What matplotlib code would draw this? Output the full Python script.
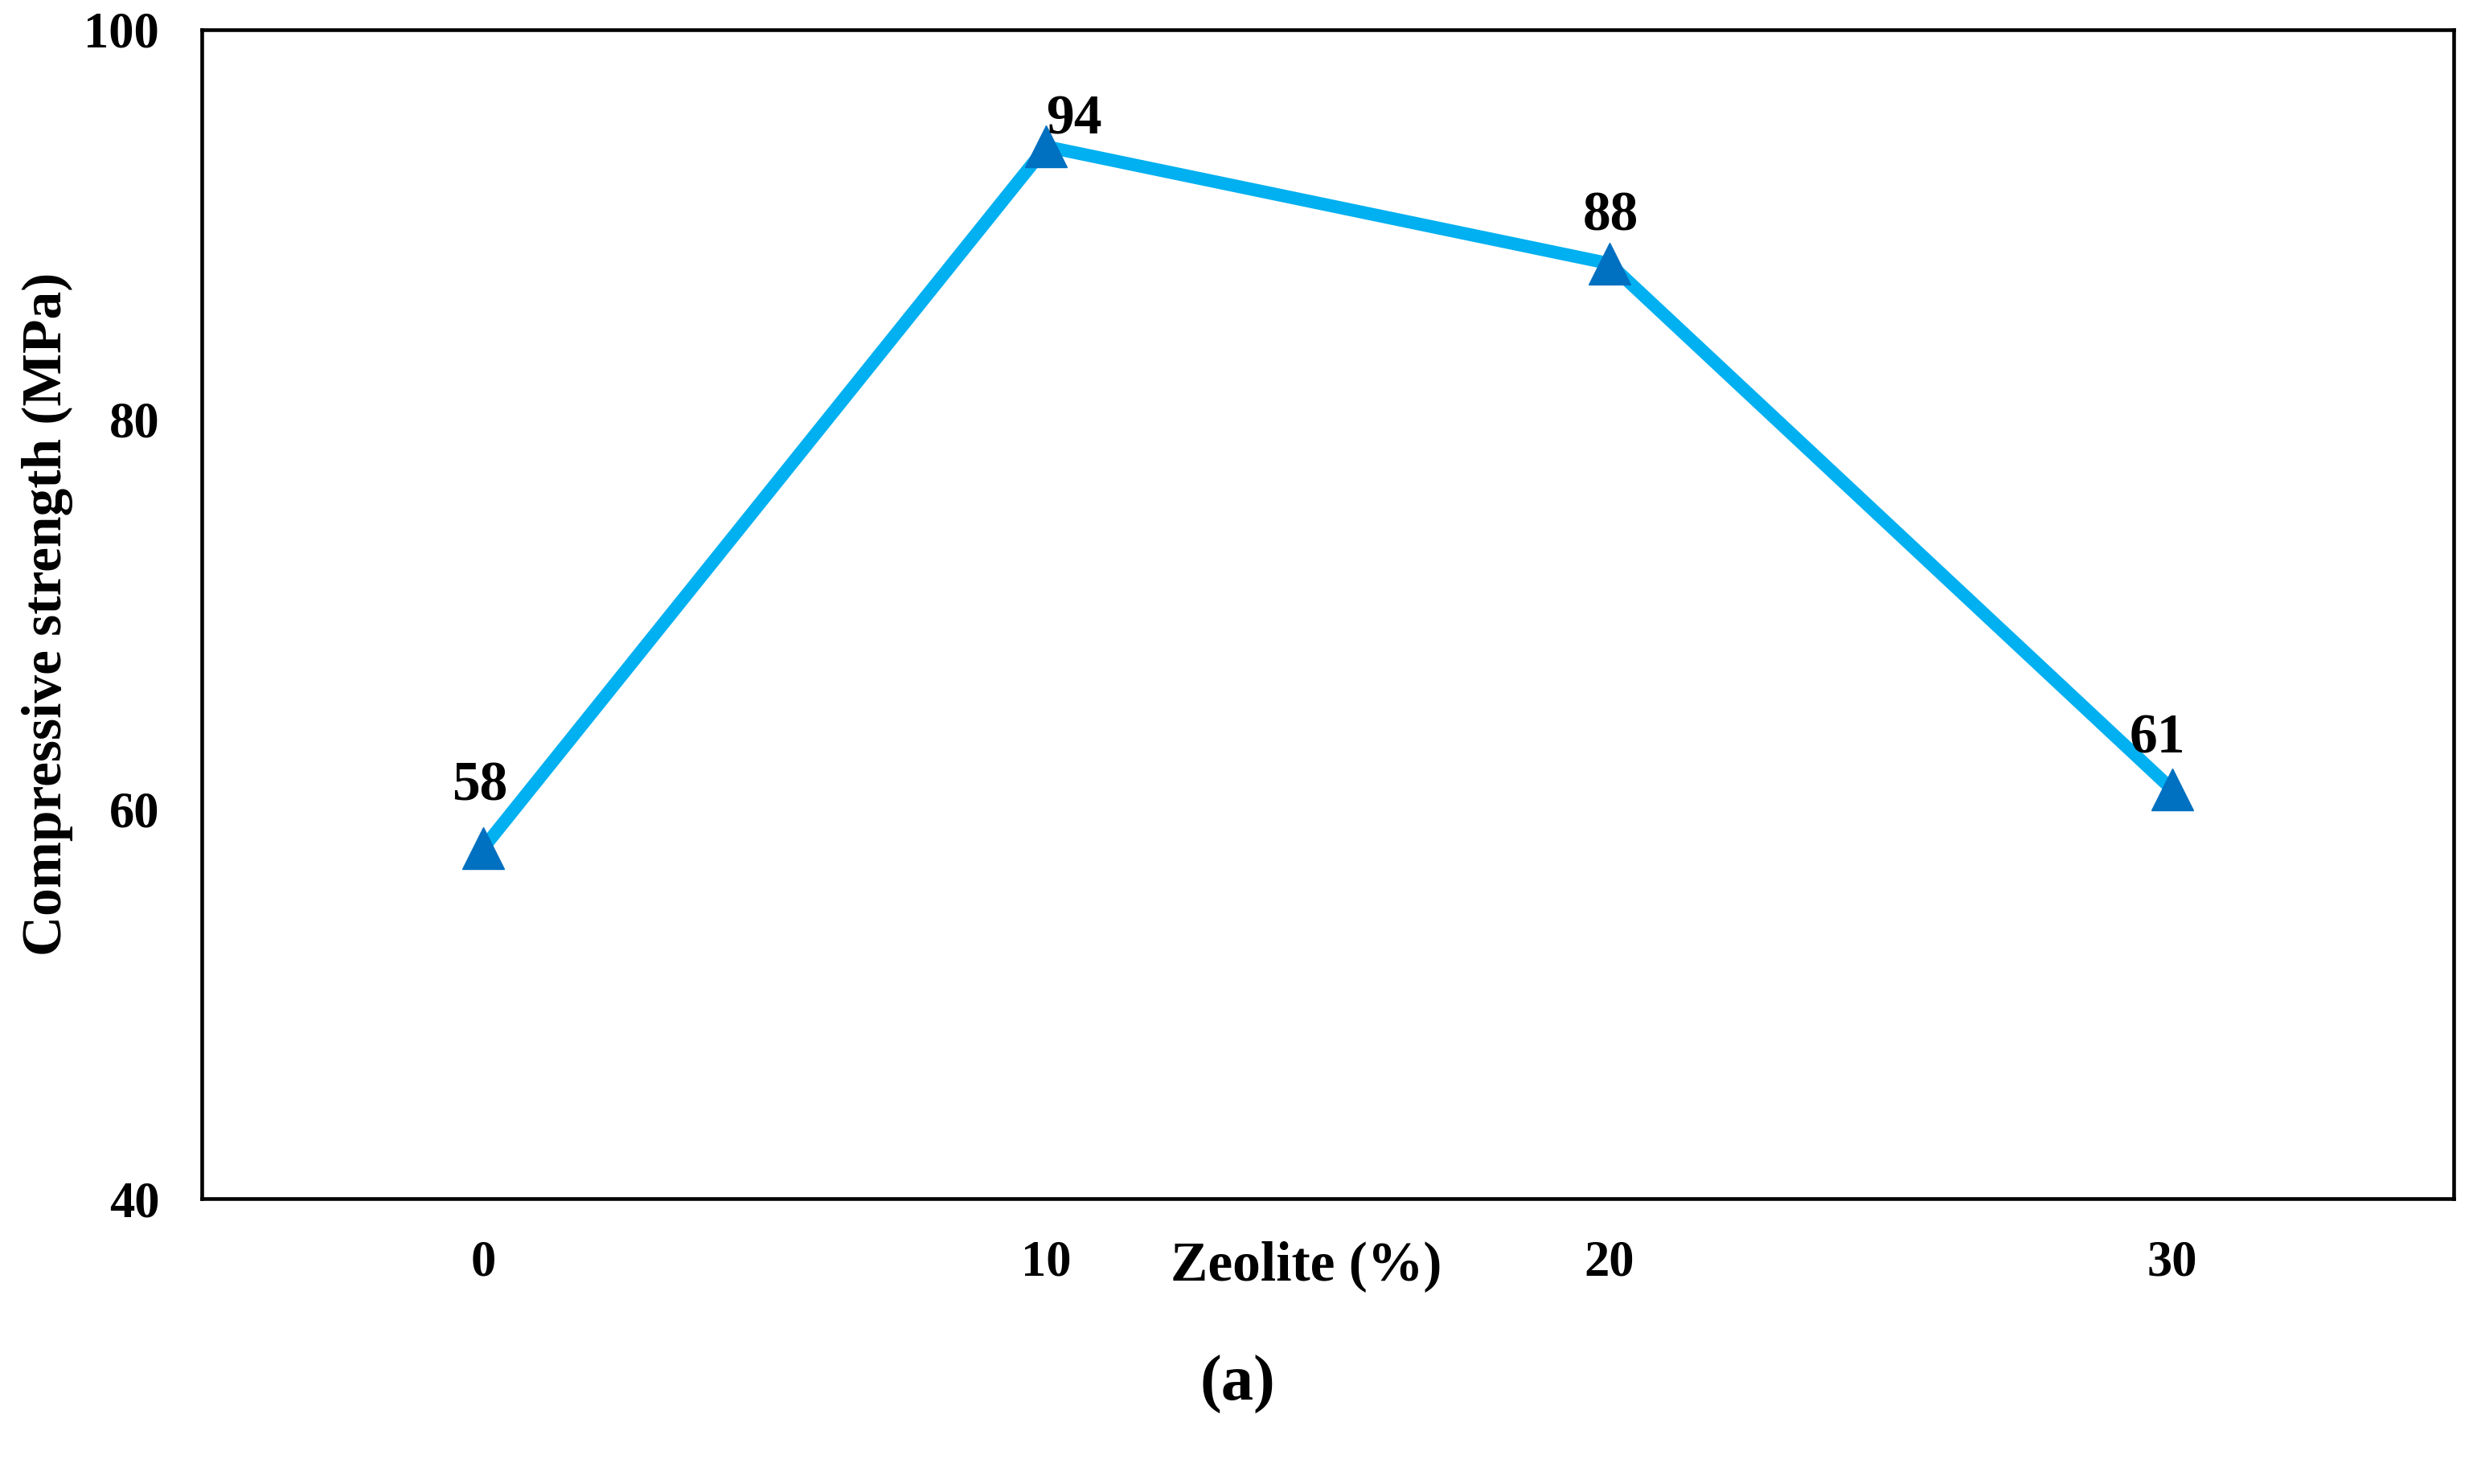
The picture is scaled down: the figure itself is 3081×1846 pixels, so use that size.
import matplotlib
matplotlib.use("Agg")
import matplotlib.pyplot as plt

categories = ["0", "10", "20", "30"]
strength = [58, 94, 88, 61]
yticks = [40, 60, 80, 100]
label_offsets = [(-3, 55), (25, 24), (1, 42), (-13, 45)]

plt.rcParams['font.family'] = ['Liberation Serif', 'DejaVu Serif']

fig = plt.figure(figsize=(30.81, 18.46), dpi=100)
ax = fig.add_axes([251/3081, 1 - 1491/1846, (3052-251)/3081, (1491-37)/1846])

x = list(range(len(categories)))
ax.plot(x, strength, color='#00B0F0', lw=11.5, marker='^', markersize=38,
        markerfacecolor='#0070C0', markeredgecolor='#0070C0', zorder=3)

for xi, v, off in zip(x, strength, label_offsets):
    ax.annotate(str(v), (xi, v), xytext=off, textcoords='offset points',
                ha='center', va='center', fontsize=50, fontweight='bold')

ax.set_xlim(-0.5, len(categories) - 0.5)
ax.set_ylim(40, 100)
ax.set_xticks(x)
ax.set_xticklabels(categories)
ax.set_yticks(yticks)
ax.tick_params(axis='both', length=0, labelsize=45)
ax.tick_params(axis='x', pad=37)
ax.tick_params(axis='y', pad=38)
for lab in ax.get_xticklabels() + ax.get_yticklabels():
    lab.set_fontweight('bold')
for sp in ax.spines.values():
    sp.set_linewidth(3.3)
    sp.set_color('black')

ax.set_xlabel('Zeolite (%)', fontsize=50, fontweight='bold')
ax.xaxis.set_label_coords(0.4905, -0.036)
ax.set_ylabel('Compressive strength (MPa)', fontsize=50, fontweight='bold')
ax.yaxis.set_label_coords(-0.057, 0.5)

fig.text(1539/3081, 1 - 1722/1846, '(a)', ha='center', va='center', fontsize=58,
         fontweight='semibold')

fig.savefig('out.png', dpi=100, facecolor='white')
